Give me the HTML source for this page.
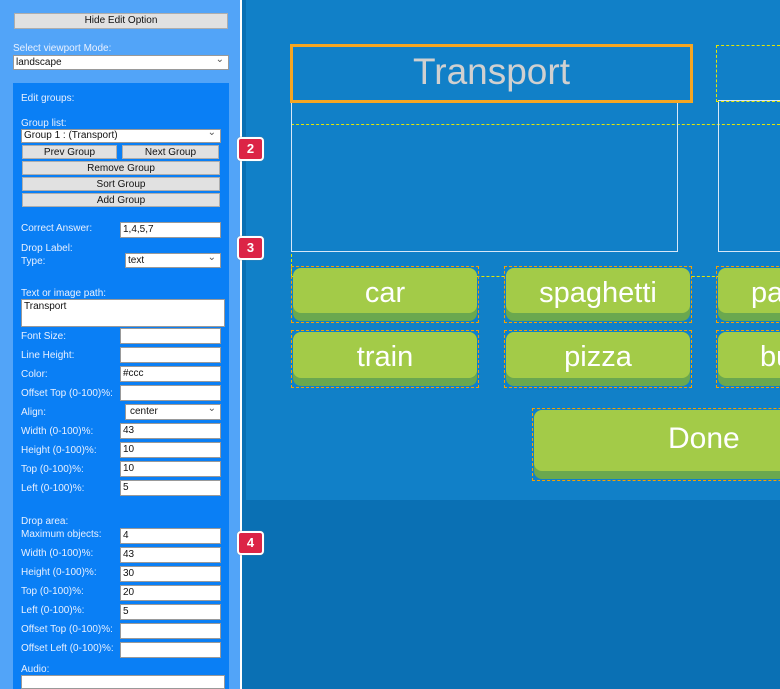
<!DOCTYPE html>
<html><head><meta charset="utf-8"><style>
*{margin:0;padding:0;box-sizing:border-box}
html,body{width:780px;height:689px;overflow:hidden}
body{position:relative;background:#0a70b4;font-family:"Liberation Sans",Arial,sans-serif}
#w{position:absolute;left:0;top:0;width:780px;height:689px;overflow:hidden}
.a{position:absolute}
.lbl{position:absolute;font-size:10px;color:#e8f0ff;white-space:nowrap}
.btn{position:absolute;background:#e1e1e1;border:1px solid #adadad;font-size:10px;color:#111;text-align:center;line-height:13px}
.inp{position:absolute;background:#fff;border:1px solid #999;font-size:10px;color:#111;padding-left:2px;line-height:14px;height:16px}
.sel:after{content:"⌄";position:absolute;right:4px;top:-3px;font-size:10px;color:#555}
.badge{position:absolute;width:27px;height:24px;background:#dc2446;border:2px solid #fff;border-radius:4px;color:#fff;font-weight:bold;font-size:13px;text-align:center;line-height:20px;box-shadow:0 0 1px #888}
.tile{position:absolute;border:1.5px dashed #f5a000}
.g{position:absolute;left:1px;right:1px;top:1px;bottom:1px;background:#6aa84f;border-radius:8px}
.g div{position:absolute;left:0;right:0;top:0;bottom:8px;background:#a3cb48;border-radius:8px;color:#fff;text-align:center;font-size:29px}
</style></head><body><div id="w">
<div class="a" style="left:0;top:0;width:240px;height:689px;background:#52a4f8"></div>
<div class="a" style="left:240px;top:0;width:2px;height:689px;background:#fff"></div>
<div class="a" style="left:246px;top:0;width:534px;height:500px;background:#1180c8"></div>
<div class="btn" style="left:14px;top:13px;width:214px;height:16px;line-height:14px">Hide Edit Option</div>
<div class="lbl" style="left:13px;top:43px">Select viewport Mode:</div>
<div class="inp sel" style="left:13px;top:55px;width:216px;height:15px;line-height:13px">landscape</div>
<div class="a" style="left:13px;top:83px;width:216px;height:606px;background:#0a7ff5"></div>
<div class="lbl" style="left:21px;top:93px">Edit groups:</div>
<div class="lbl" style="left:21px;top:118px">Group list:</div>
<div class="inp sel" style="left:21px;top:129px;width:200px;height:14px;line-height:12px">Group 1 : (Transport)</div>
<div class="btn" style="left:22px;top:145px;width:95px;height:14px">Prev Group</div>
<div class="btn" style="left:122px;top:145px;width:97px;height:14px">Next Group</div>
<div class="btn" style="left:22px;top:161px;width:198px;height:14px">Remove Group</div>
<div class="btn" style="left:22px;top:177px;width:198px;height:14px">Sort Group</div>
<div class="btn" style="left:22px;top:193px;width:198px;height:14px">Add Group</div>
<div class="lbl" style="left:21px;top:223px">Correct Answer:</div>
<div class="inp" style="left:120px;top:222px;width:101px">1,4,5,7</div>
<div class="lbl" style="left:21px;top:243px">Drop Label:</div>
<div class="lbl" style="left:21px;top:256px">Type:</div>
<div class="inp sel" style="left:125px;top:253px;width:96px;height:15px;line-height:13px">text</div>
<div class="lbl" style="left:21px;top:288px">Text or image path:</div>
<div class="inp" style="left:21px;top:299px;width:204px;height:28px">Transport</div>
<div class="lbl" style="left:21px;top:331px">Font Size:</div><div class="inp" style="left:120px;top:328px;width:101px"></div>
<div class="lbl" style="left:21px;top:350px">Line Height:</div><div class="inp" style="left:120px;top:347px;width:101px"></div>
<div class="lbl" style="left:21px;top:369px">Color:</div><div class="inp" style="left:120px;top:366px;width:101px">#ccc</div>
<div class="lbl" style="left:21px;top:388px">Offset Top (0-100)%:</div><div class="inp" style="left:120px;top:385px;width:101px"></div>
<div class="lbl" style="left:21px;top:407px">Align:</div><div class="inp sel" style="left:125px;top:404px;width:96px;padding-left:4px">center</div>
<div class="lbl" style="left:21px;top:426px">Width (0-100)%:</div><div class="inp" style="left:120px;top:423px;width:101px">43</div>
<div class="lbl" style="left:21px;top:445px">Height (0-100)%:</div><div class="inp" style="left:120px;top:442px;width:101px">10</div>
<div class="lbl" style="left:21px;top:464px">Top (0-100)%:</div><div class="inp" style="left:120px;top:461px;width:101px">10</div>
<div class="lbl" style="left:21px;top:483px">Left (0-100)%:</div><div class="inp" style="left:120px;top:480px;width:101px">5</div>
<div class="lbl" style="left:21px;top:516px">Drop area:</div>
<div class="lbl" style="left:21px;top:529px">Maximum objects:</div><div class="inp" style="left:120px;top:528px;width:101px">4</div>
<div class="lbl" style="left:21px;top:548px">Width (0-100)%:</div><div class="inp" style="left:120px;top:547px;width:101px">43</div>
<div class="lbl" style="left:21px;top:567px">Height (0-100)%:</div><div class="inp" style="left:120px;top:566px;width:101px">30</div>
<div class="lbl" style="left:21px;top:586px">Top (0-100)%:</div><div class="inp" style="left:120px;top:585px;width:101px">20</div>
<div class="lbl" style="left:21px;top:605px">Left (0-100)%:</div><div class="inp" style="left:120px;top:604px;width:101px">5</div>
<div class="lbl" style="left:21px;top:624px">Offset Top (0-100)%:</div><div class="inp" style="left:120px;top:623px;width:101px"></div>
<div class="lbl" style="left:21px;top:643px">Offset Left (0-100)%:</div><div class="inp" style="left:120px;top:642px;width:101px"></div>
<div class="lbl" style="left:21px;top:664px">Audio:</div>
<div class="inp" style="left:21px;top:675px;width:204px;height:14px"></div>
<div class="badge" style="left:237px;top:137px">2</div>
<div class="badge" style="left:237px;top:236px">3</div>
<div class="badge" style="left:237px;top:531px">4</div>

<div class="a" style="left:291px;top:124px;width:489px;height:153px;border:1.5px dashed #e6e600;border-right:none"></div>
<div class="a" style="left:291px;top:100px;width:387px;height:152px;border:1px solid #d8e8f8"></div>
<div class="a" style="left:718px;top:100px;width:62px;height:152px;border:1px solid #d8e8f8;border-right:none"></div>
<div class="a" style="left:716px;top:45px;width:64px;height:57px;border:1.5px dashed #e6e600;border-right:none"></div>
<div class="a" style="left:290px;top:44px;width:403px;height:59px;border:3px solid #f5a623;color:#d0d0d0;font-size:37px;text-align:center;line-height:50px">Transport</div>

<div class="tile" style="left:291px;top:266px;width:188px;height:57px"><div class="g"><div style="line-height:50px">car</div></div></div>
<div class="tile" style="left:504px;top:266px;width:188px;height:57px"><div class="g"><div style="line-height:50px">spaghetti</div></div></div>
<div class="a" style="left:716px;top:266px;width:64px;height:122px;overflow:hidden">
<div class="tile" style="left:0;top:0;width:188px;height:57px"><div class="g"><div style="line-height:50px;text-align:left;padding-left:33px">pasta</div></div></div>
<div class="tile" style="left:0;top:64px;width:188px;height:58px"><div class="g"><div style="line-height:50px;text-align:left;padding-left:42px">bus</div></div></div>
</div>
<div class="tile" style="left:291px;top:330px;width:188px;height:58px"><div class="g"><div style="line-height:50px">train</div></div></div>
<div class="tile" style="left:504px;top:330px;width:188px;height:58px"><div class="g"><div style="line-height:50px">pizza</div></div></div>
<div class="a" style="left:532px;top:408px;width:248px;height:73px;overflow:hidden">
<div class="tile" style="left:0;top:0;width:340px;height:73px"><div class="g"><div style="line-height:58px;font-size:30px;text-align:left;padding-left:134px">Done</div></div></div>
</div>
</div></body></html>
